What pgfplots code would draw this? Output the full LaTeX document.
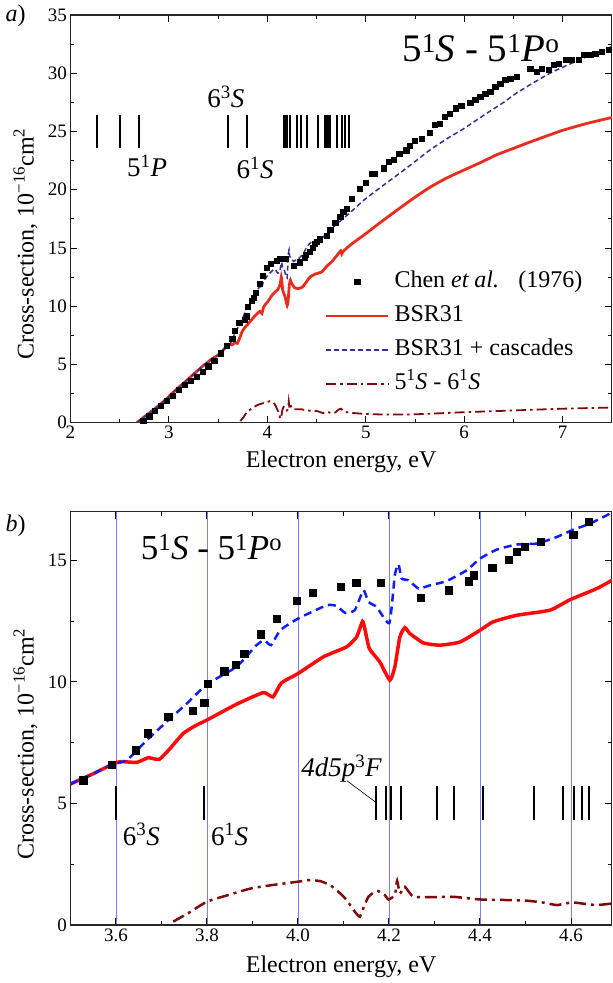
\documentclass[border=0pt]{standalone}
\usepackage{fontspec}
\setmainfont{Liberation Serif}
\usepackage{pgfplots}
\pgfplotsset{compat=1.18}

\definecolor{redA}{RGB}{232,45,30}
\definecolor{redB}{RGB}{255,10,10}
\definecolor{navyA}{RGB}{50,50,150}
\definecolor{blueB}{RGB}{15,30,255}
\definecolor{maroonC}{RGB}{128,10,10}
\definecolor{gridblue}{RGB}{125,125,255}

\newcommand{\fs}[1]{\fontsize{#1}{#1}\selectfont}

\pgfplotsset{
 common/.style={
  scale only axis, width=541.5pt,
  tick align=inside,
  major tick length=7pt, minor tick length=4pt,
  every tick/.style={black, line width=0.9pt},
  axis line style={line width=1.1pt, black!85},
  tick label style={font=\fs{19}},
  /pgf/number format/assume math mode=true,
  every axis label/.append style={font=\fs{24}},
  every axis y label/.style={at={(axis description cs:-0.0831,0.438)}, rotate=90, anchor=center, font=\fs{24}},
 }
}

\begin{document}
\begin{tikzpicture}

% ---------------- panel a ----------------
\begin{axis}[common, at={(70.4pt,560.3pt)}, anchor=south west, height=407.7pt,
 xmin=2, xmax=7.5, ymin=0, ymax=35,
 xtick={2,3,4,5,6,7}, ytick={0,5,10,15,20,25,30,35}, minor tick num=1,
 every axis x label/.style={at={(axis description cs:0.5,-0.111)}, anchor=base, font=\fs{24}},
 xlabel={Electron energy, eV},
 ylabel={Cross-section, 10\textsuperscript{−16}cm\textsuperscript{2}},
 legend style={at={(0.4693,0.3875)}, anchor=north west, draw=none, fill=none,
   font=\fs{24}, inner sep=0pt, row sep=0pt,
   nodes={inner sep=5pt, text height=18pt, text depth=6pt}},
 legend cell align=left,
 legend image code/.code={\draw[mark repeat=2,mark phase=2,#1] plot coordinates {(0pt,0pt) (31pt,0pt) (62pt,0pt)};},
]
\pgfplotsinvokeforeach{2.27,2.50,2.70,3.60,3.795,4.171,4.193,4.204,4.227,4.305,4.343,4.406,4.518,4.582,4.607,4.624,4.640,4.706,4.757,4.79,4.834}{
  \addplot[forget plot, black, line width=2pt] coordinates {(#1,23.6) (#1,26.4)};
}

\addplot[only marks, mark=square*, mark size=2.6pt, black] coordinates {
(2.74,0.15) (2.80,0.55) (2.86,1.00) (2.92,1.45) (2.98,1.90) (3.04,2.35) (3.10,2.80)
(3.16,3.25) (3.22,3.60) (3.28,3.95) (3.34,4.40) (3.40,4.85) (3.46,5.30)
(3.528,5.96) (3.591,6.60) (3.644,7.19) (3.670,7.89) (3.715,8.56) (3.769,8.81)
(3.794,9.15) (3.802,9.93) (3.838,10.44) (3.864,10.71) (3.882,11.17) (3.919,11.96)
(3.953,12.60) (3.997,13.34) (4.032,13.66) (4.094,13.93) (4.128,14.07) (4.182,14.07)
(4.269,13.45) (4.331,13.77) (4.376,14.14) (4.386,14.39) (4.427,14.71) (4.464,15.03)
(4.481,15.34) (4.498,15.55) (4.534,15.75) (4.605,16.04) (4.639,16.60)
(4.69,17.2) (4.74,17.7) (4.77,18.1) (4.81,18.4) (4.86,19.26) (4.94,20.1)
(5.00,20.6) (5.06,21.35) (5.09,21.35) (5.18,21.84) (5.23,22.4) (5.28,22.6)
(5.34,23.06) (5.41,23.4) (5.45,23.8) (5.50,24.2) (5.57,24.4) (5.65,24.9)
(5.70,25.55) (5.75,25.64) (5.80,26.27) (5.85,26.5) (5.91,27.0) (5.97,27.2)
(6.06,27.5) (6.112,27.7) (6.163,27.98) (6.213,28.27) (6.264,28.41) (6.315,28.84)
(6.366,29.13) (6.417,29.42) (6.467,29.56) (6.535,29.7) (6.671,30.42) (6.739,30.13)
(6.79,30.42) (6.857,30.27) (6.908,30.7) (6.958,30.85) (7.027,31.19) (7.095,31.19)
(7.162,31.19) (7.212,31.62) (7.28,31.56) (7.33,31.71) (7.40,31.85) (7.466,32.05)
};
\addlegendentry{Chen \textit{et al.}\hspace{0.8em}(1976)}

\addplot[redA, line width=2.8pt, smooth, tension=0.3] coordinates {
(2.674,0) (2.75,0.5) (2.85,1.15) (2.95,1.85) (3.05,2.65) (3.15,3.40) (3.25,4.15)
(3.35,4.90) (3.45,5.55) (3.50,5.80) (3.55,6.22) (3.591,6.60) (3.61,6.72) (3.646,6.69)
(3.671,6.88) (3.695,6.81) (3.719,7.26) (3.748,7.88) (3.775,8.20) (3.80,8.43)
(3.865,9.08) (3.924,9.56) (3.945,9.38) (3.964,9.96) (4.00,10.34) (4.056,11.03)
(4.107,11.44) (4.129,11.85) (4.142,12.49) (4.147,12.19) (4.157,11.37) (4.180,10.82)
(4.202,10.07) (4.213,10.62) (4.224,11.85) (4.235,12.23) (4.246,11.99) (4.276,11.60)
(4.312,11.51) (4.356,11.64) (4.400,12.12) (4.429,12.47) (4.481,12.74) (4.554,12.95)
(4.598,13.38) (4.657,13.84) (4.693,14.21) (4.73,14.6) (4.745,14.75) (4.757,14.5)
(4.77,14.7) (4.85,15.3) (4.98,16.1) (5.15,17.2) (5.32,18.26) (5.49,19.3) (5.65,20.2)
(5.82,21.0) (6.0,21.7) (6.17,22.35) (6.33,23.0) (6.5,23.55) (6.67,24.1) (6.84,24.62)
(7.0,25.1) (7.25,25.7) (7.5,26.2)
};
\addlegendentry{BSR31}

\addplot[navyA, line width=1.5pt, dash pattern=on 5pt off 3pt, smooth, tension=0.3] coordinates {
(2.674,0) (2.75,0.5) (2.85,1.15) (2.95,1.85) (3.05,2.65) (3.15,3.40) (3.25,4.15)
(3.35,4.90) (3.45,5.55) (3.50,5.80) (3.55,6.22) (3.591,6.60) (3.624,6.78) (3.668,7.60)
(3.719,8.49) (3.756,9.11) (3.80,9.90) (3.865,10.62) (3.909,11.51) (3.926,11.71)
(3.941,11.51) (3.961,12.12) (4.00,12.60) (4.063,13.15) (4.085,13.12) (4.104,12.84)
(4.125,12.95) (4.144,13.77) (4.155,13.29) (4.173,13.08) (4.201,12.42) (4.213,14.39)
(4.221,14.84) (4.228,14.25) (4.243,14.18) (4.265,13.84) (4.290,13.97) (4.327,14.15)
(4.371,14.59) (4.400,15.07) (4.437,15.44) (4.481,15.65) (4.525,15.69) (4.569,15.96)
(4.605,16.26) (4.642,16.51) (4.693,16.99) (4.74,17.3) (4.85,18.1) (4.98,19.1)
(5.15,20.2) (5.32,21.26) (5.49,22.35) (5.65,23.4) (5.82,24.35) (6.0,25.27) (6.2,26.4)
(6.4,27.5) (6.55,28.4) (6.87,30.0) (7.21,31.3) (7.5,32.3)
};
\addlegendentry{BSR31 + cascades}

\addplot[maroonC, line width=1.8pt, dash pattern=on 10pt off 4pt on 2.5pt off 4pt, smooth, tension=0.3] coordinates {
(3.726,0.14) (3.76,0.5) (3.80,0.96) (3.898,1.51) (4.00,1.78) (4.027,1.85) (4.071,1.64)
(4.107,1.03) (4.136,0.34) (4.155,1.16) (4.173,1.41) (4.199,1.05) (4.213,1.23)
(4.218,1.82) (4.224,1.30) (4.235,1.57) (4.254,1.16) (4.342,1.16) (4.40,1.05)
(4.503,1.00) (4.569,0.82) (4.602,0.93) (4.657,0.82) (4.693,0.89) (4.72,1.1)
(4.75,1.2) (4.78,0.95) (4.85,0.85) (5.0,0.75) (5.2,0.7) (5.5,0.72) (6.0,0.9)
(6.5,1.05) (7.0,1.2) (7.5,1.3)
};
\addlegendentry{5\textsuperscript{1}\textit{S} - 6\textsuperscript{1}\textit{S}}

\node[anchor=base, font=\fs{27}] at (axis cs:3.58,27.09) {6\textsuperscript{3}\textit{S}};
\node[anchor=base, font=\fs{27}] at (axis cs:2.78,21.12) {5\textsuperscript{1}\textit{P}};
\node[anchor=base, font=\fs{27}] at (axis cs:3.876,20.98) {6\textsuperscript{1}\textit{S}};
\node[anchor=base, font=\fs{39}] at (axis cs:6.17,31.0) {5\textsuperscript{1}\textit{S} - 5\textsuperscript{1}\textit{P}\textsuperscript{o}};
\end{axis}

% ---------------- panel b ----------------
\begin{axis}[common, at={(70.4pt,58pt)}, anchor=south west, height=413.3pt,
 xmin=3.5, xmax=4.69, ymin=0, ymax=17,
 xtick={3.6,3.8,4.0,4.2,4.4,4.6}, minor xtick={3.5,3.7,3.9,4.1,4.3,4.5,4.7},
 ytick={0,5,10,15}, minor ytick={2.5,7.5,12.5},
 xticklabel style={/pgf/number format/.cd, fixed, fixed zerofill, precision=1},
 xmajorgrids, major x grid style={gridblue, line width=0.8pt},
 every axis x label/.style={at={(axis description cs:0.5,-0.1154)}, anchor=base, font=\fs{24}},
 xlabel={Electron energy, eV},
 ylabel={Cross-section, 10\textsuperscript{−16}cm\textsuperscript{2}},
]
\pgfplotsinvokeforeach{3.60,3.793,4.171,4.193,4.204,4.227,4.305,4.343,4.406,4.518,4.582,4.607,4.624,4.640}{
  \addplot[forget plot, black, line width=2.2pt] coordinates {(#1,4.3) (#1,5.7)};
}

\addplot[maroonC, line width=2.5pt, dash pattern=on 12pt off 5pt on 3pt off 5pt, smooth, tension=0.3] coordinates {
(3.726,0.14) (3.76,0.5) (3.80,0.96) (3.85,1.25) (3.898,1.51) (3.95,1.66) (4.00,1.78)
(4.027,1.85) (4.05,1.80) (4.071,1.64) (4.09,1.35) (4.107,1.03) (4.125,0.55) (4.136,0.34)
(4.145,0.75) (4.155,1.16) (4.173,1.41) (4.19,1.25) (4.199,1.05) (4.213,1.23)
(4.218,1.82) (4.224,1.30) (4.235,1.57) (4.254,1.16) (4.30,1.15) (4.342,1.16) (4.40,1.05)
(4.45,1.03) (4.503,1.00) (4.54,0.92) (4.569,0.82) (4.602,0.93) (4.63,0.87) (4.657,0.82) (4.693,0.89)
};

\addplot[redB, line width=3.5pt, smooth, tension=0.3] coordinates {
(3.50,5.80) (3.55,6.22) (3.591,6.60) (3.61,6.72) (3.646,6.69)
(3.671,6.88) (3.695,6.81) (3.719,7.26) (3.748,7.88) (3.775,8.20) (3.80,8.43)
(3.865,9.08) (3.924,9.56) (3.945,9.38) (3.964,9.96) (4.00,10.34) (4.056,11.03)
(4.107,11.44) (4.129,11.85) (4.142,12.49) (4.147,12.19) (4.157,11.37) (4.180,10.82)
(4.202,10.07) (4.213,10.62) (4.224,11.85) (4.235,12.23) (4.246,11.99) (4.276,11.60)
(4.312,11.51) (4.356,11.64) (4.400,12.12) (4.429,12.47) (4.481,12.74) (4.554,12.95)
(4.598,13.38) (4.657,13.84) (4.693,14.21)
};

\addplot[blueB, line width=2.5pt, dash pattern=on 8pt off 5pt, smooth, tension=0.3] coordinates {
(3.50,5.80) (3.55,6.22) (3.591,6.60) (3.624,6.78) (3.668,7.60)
(3.719,8.49) (3.756,9.11) (3.80,9.90) (3.865,10.62) (3.909,11.51) (3.926,11.71)
(3.941,11.51) (3.961,12.12) (4.00,12.60) (4.063,13.15) (4.085,13.12) (4.104,12.84)
(4.125,12.95) (4.144,13.77) (4.155,13.29) (4.173,13.08) (4.201,12.42) (4.213,14.39)
(4.221,14.84) (4.228,14.25) (4.243,14.18) (4.265,13.84) (4.290,13.97) (4.327,14.15)
(4.371,14.59) (4.400,15.07) (4.437,15.44) (4.481,15.65) (4.525,15.69) (4.569,15.96)
(4.605,16.26) (4.642,16.51) (4.693,16.99)
};

\addplot[only marks, mark=square*, mark size=3.6pt, black] coordinates {
(3.528,5.96) (3.591,6.60) (3.644,7.19) (3.670,7.89) (3.715,8.56) (3.769,8.81)
(3.794,9.15) (3.802,9.93) (3.838,10.44) (3.864,10.71) (3.882,11.17) (3.919,11.96)
(3.953,12.60) (3.997,13.34) (4.032,13.66) (4.094,13.93) (4.128,14.07) (4.182,14.07)
(4.269,13.45) (4.331,13.77) (4.376,14.14) (4.386,14.39) (4.427,14.71) (4.464,15.03)
(4.481,15.34) (4.498,15.55) (4.534,15.75) (4.605,16.04) (4.639,16.60)
};

\draw[black, line width=0.6pt] (axis cs:4.108,5.93) -- (axis cs:4.171,5.05);
\node[anchor=base, font=\fs{27}] at (axis cs:3.656,3.29) {6\textsuperscript{3}\textit{S}};
\node[anchor=base, font=\fs{27}] at (axis cs:3.85,3.29) {6\textsuperscript{1}\textit{S}};
\node[anchor=base, font=\fs{27}] at (axis cs:4.096,6.12) {\textit{4d5p}\textsuperscript{3}\textit{F}};
\node[anchor=base, font=\fs{35}] at (axis cs:3.81,15.04) {5\textsuperscript{1}\textit{S} - 5\textsuperscript{1}\textit{P}\textsuperscript{o}};
\end{axis}

\node[anchor=base, font=\fs{24}] at (15.5pt,961pt) {\textit{a})};
\node[anchor=base, font=\fs{24}] at (15.5pt,451pt) {\textit{b})};

\pgfresetboundingbox
\path[use as bounding box] (0,0) rectangle (613pt,983pt);
\end{tikzpicture}
\end{document}
